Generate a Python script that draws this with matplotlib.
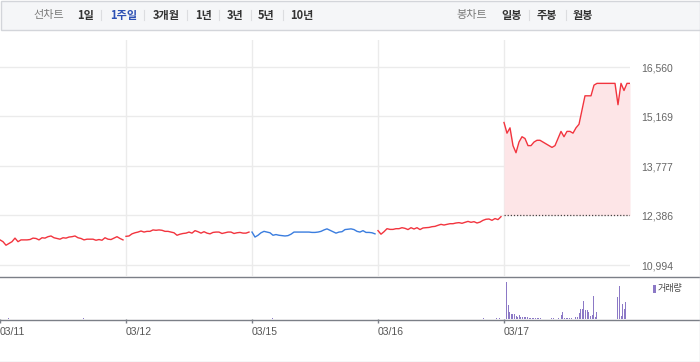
#!/usr/bin/env python3
# -*- coding: utf-8 -*-
# 1주일 선차트 (5분 단위) + 거래량
import numpy as np
import matplotlib; matplotlib.use("Agg")
import matplotlib.pyplot as plt
from matplotlib.patches import Rectangle

plt.rcParams["font.family"] = ["Liberation Sans", "Noto Sans CJK KR", "DejaVu Sans"]
KR = ["Noto Sans CJK KR", "DejaVu Sans"]

# ---------------------- data ----------------------
DATES = ["03/11", "03/12", "03/15", "03/16", "03/17"]
DAY_COLORS = ["#f2343e", "#f2343e", "#3a7ddf", "#f2343e", "#f2343e"]
PRICE_TICKS = [10994, 12386, 13777, 15169, 16560]
prev_close = 12386

price_0311 = [11700, 11650, 11550, 11600, 11650, 11750, 11650, 11700, 11700, 11700,
              11710, 11750, 11740, 11700, 11760, 11750, 11790, 11810, 11760, 11740,
              11720, 11760, 11750, 11780, 11790, 11810, 11760, 11740, 11700, 11720,
              11720, 11720, 11690, 11710, 11690, 11760, 11720, 11710, 11750, 11790,
              11740, 11700]
price_0312 = [11800, 11810, 11870, 11900, 11920, 11950, 11920, 11940, 11940, 11980,
              11970, 11980, 11970, 11940, 11940, 11920, 11900, 11830, 11860, 11880,
              11890, 11920, 11890, 11960, 11930, 11890, 11930, 11890, 11870, 11910,
              11920, 11920, 11880, 11900, 11920, 11920, 11880, 11900, 11910, 11890,
              11890, 11920]
price_0315 = [11920, 11780, 11830, 11900, 11940, 11920, 11900, 11830, 11850, 11830,
              11820, 11810, 11820, 11860, 11920, 11920, 11920, 11920, 11920, 11920,
              11910, 11910, 11920, 11940, 11980, 12010, 11970, 11930, 11890, 11920,
              11930, 11990, 12000, 12010, 11990, 11940, 11920, 11960, 11910, 11910,
              11900, 11870]
price_0316 = [11960, 11860, 11930, 12015, 11995, 11995, 12015, 12015, 12043, 12025,
              11990, 12043, 12006, 12043, 11990, 12035, 12043, 12050, 12071, 12080,
              12110, 12137, 12118, 12137, 12155, 12155, 12175, 12185, 12166, 12194,
              12220, 12194, 12212, 12175, 12200, 12250, 12280, 12287, 12250, 12300,
              12270, 12353]
price_0317 = [15000, 14700, 14850, 14350, 14150, 14450, 14600, 14550, 14350, 14350,
              14450, 14500, 14500, 14450, 14400, 14350, 14300, 14350, 14550, 14750,
              14600, 14750, 14750, 14700, 14850, 14950, 15350, 15750, 15750, 15750,
              16050, 16100, 16100, 16100, 16100, 16100, 16100, 16100, 15500, 16100,
              15900, 16100, 16100]
PRICES = [price_0311, price_0312, price_0315, price_0316, price_0317]

# 거래량 (5분봉, 03/17), 단위: 천주
vol_0317 = [0, 110, 43, 20, 16, 16, 15, 8, 6, 13,
            6, 6, 6, 6, 5, 4, 4, 4, 4, 4,
            4, 4, 4, 0, 0, 0, 0, 0, 0, 4,
            4, 0, 0, 4, 0, 13, 22, 4, 4, 4,
            4, 4, 0, 0, 5, 5, 18, 31, 31, 55,
            28, 26, 20, 10, 13, 68, 6, 21, 0, 0,
            0, 0, 0, 0, 0, 0, 0, 0, 0, 0,
            65, 100, 10, 45, 31, 52, 0, 0]
# 그 이전 날짜의 작은 거래량: (day, slot, vol)
vol_early_day = [0, 0, 2, 3, 3, 3]
vol_early_slot = [5, 51, 12, 65, 73, 75]
vol_early = [2, 2, 2, 2, 2, 2]
SLOTS = 78

# ---------------------- figure ----------------------
W, H = 700, 362
fig = plt.figure(figsize=(W / 100, H / 100), dpi=100)
fig.patch.set_facecolor("white")

def px_axes(x0, y0, x1, y1):
    return fig.add_axes([x0 / W, 1 - y1 / H, (x1 - x0) / W, (y1 - y0) / H])

# main price panel
ax = px_axes(0, 40, 630, 276)
ax.set_xlim(0, 5)
ax.set_ylim(10685, 17319)
for s in ax.spines.values():
    s.set_visible(False)
ax.set_xticks([])
ax.yaxis.tick_right()
ax.set_yticks(PRICE_TICKS, [f"{v:,}" for v in PRICE_TICKS])
ax.tick_params(axis="y", length=0, pad=8, labelsize=7.5, labelcolor="#666666")
for v in PRICE_TICKS:
    ax.axhline(v, color="#ebebeb", lw=1, zorder=0)
for d in range(1, 5):
    ax.axvline(d, color="#ebebeb", lw=1, zorder=0)

for d, (vals, col) in enumerate(zip(PRICES, DAY_COLORS)):
    xs = d + np.arange(len(vals)) / 42
    ax.plot(xs, vals, color=col, lw=1.0, zorder=3)
    if d == 4:
        ax.fill_between(xs, prev_close, vals, color="#fde5e7", lw=0, zorder=1)
        ax.hlines(prev_close, d, d + 1, colors="#444444", linestyles=(0, (1, 1.5)),
                  lw=0.9, zorder=2)

# volume panel
vx = px_axes(0, 277, 630, 319)
vx.set_xlim(0, 5)
vx.set_ylim(0, 126)
for s in vx.spines.values():
    s.set_visible(False)
vx.set_yticks([])
bx = 4 + (np.arange(SLOTS) + 0.5) / SLOTS
vx.bar(bx, vol_0317, width=0.6 / SLOTS, color="#8c79c6", lw=0)
ex = np.array(vol_early_day) + (np.array(vol_early_slot) + 0.5) / SLOTS
vx.bar(ex, vol_early, width=0.6 / SLOTS, color="#8c79c6", lw=0)
vx.set_xticks(range(5), DATES)
vx.tick_params(axis="x", direction="out", length=3, width=1, color="#7b7f87",
               pad=3, labelsize=7.5, labelcolor="#555555")
for lbl in vx.get_xticklabels():
    lbl.set_ha("left")

# overlay: toolbar, separators, frame
ov = fig.add_axes([0, 0, 1, 1], zorder=5)
ov.set_xlim(0, W); ov.set_ylim(H, 0); ov.axis("off")
ov.add_patch(Rectangle((0.5, 0.5), W - 1, 29.5, fc="#f5f6f8", ec="#d3d5da", lw=1))
ov.add_patch(Rectangle((653, 285), 3, 8, fc="#8c79c6", lw=0))
ov.text(658, 289, "거래량", fontsize=6.5, color="#444444", family=KR, va="center", ha="left")
ov.plot([0, W], [276.5, 276.5], color="#7b7f87", lw=1)
ov.plot([0, W], [319.5, 319.5], color="#7b7f87", lw=1)
ov.plot([W - 0.5, W - 0.5], [30, H], color="#d3d5da", lw=1)
ov.plot([0, W], [H - 0.5, H - 0.5], color="#d3d5da", lw=1)

left_items = [("선차트", 33, "#7a7a7a", "normal"), ("1일", 77, "#333333", "bold"),
              ("1주일", 110, "#2c50b4", "bold"), ("3개월", 153, "#333333", "bold"),
              ("1년", 195, "#333333", "bold"), ("3년", 227, "#333333", "bold"),
              ("5년", 258, "#333333", "bold"), ("10년", 290, "#333333", "bold")]
right_items = [("봉차트", 456, "#7a7a7a", "normal"), ("일봉", 501, "#333333", "bold"),
               ("주봉", 537, "#333333", "bold"), ("월봉", 573, "#333333", "bold")]
for txt, x, c, w in left_items + right_items:
    ov.text(x, 15, txt, fontsize=8, color=c, weight=w, family=KR, va="center", ha="left")
for x in [101, 144, 187, 219, 251, 283, 529, 566]:
    ov.plot([x, x], [10, 20], color="#dcdde0", lw=0.8)

fig.savefig("out.png", dpi=100, facecolor="white")
